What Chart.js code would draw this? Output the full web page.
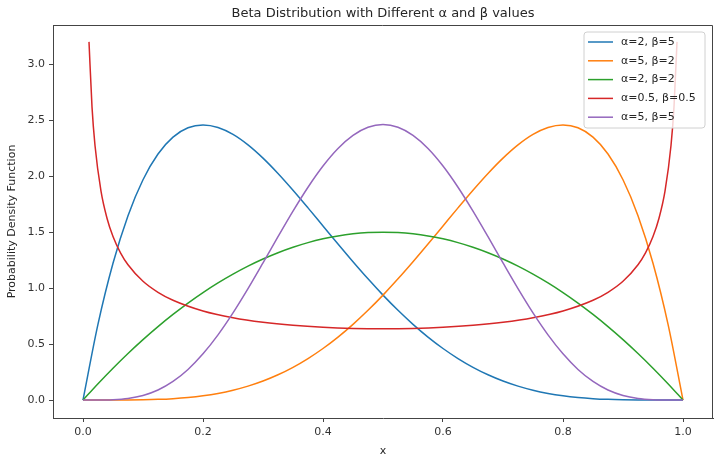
<!DOCTYPE html>
<html>
<head>
<meta charset="utf-8">
<script src="https://cdn.jsdelivr.net/npm/chart.js@4.4.0/dist/chart.umd.min.js"></script>
<style>
  html, body { margin: 0; padding: 0; background: #fff; }
  #wrap { width: 720px; height: 465px; }
</style>
</head>
<body>
<div id="wrap"><canvas id="betaChart" width="720" height="465"></canvas></div>
<script>
// x positions shared by the four bounded curves (step 0.025)
const xs = [0, 0.025, 0.05, 0.075, 0.1, 0.125, 0.15, 0.175, 0.2, 0.225, 0.25, 0.275, 0.3, 0.325, 0.35, 0.375,
  0.4, 0.425, 0.45, 0.475, 0.5, 0.525, 0.55, 0.575, 0.6, 0.625, 0.65, 0.675, 0.7, 0.725, 0.75, 0.775,
  0.8, 0.825, 0.85, 0.875, 0.9, 0.925, 0.95, 0.975, 1];

const blueY = [0, 0.6778, 1.2218, 1.6472, 1.9683, 2.1982, 2.3490, 2.4321, 2.4576, 2.4351, 2.3730, 2.2793, 2.1609, 2.0240, 1.8743, 1.7166,
  1.5552, 1.3937, 1.2353, 1.0826, 0.9375, 0.8018, 0.6766, 0.5628, 0.4608, 0.3708, 0.2926, 0.2259, 0.1701, 0.1244, 0.0879, 0.0596,
  0.0384, 0.0232, 0.0129, 0.0064, 0.0027, 0.0009, 0.0002, 0.0000, 0];
const orangeY = [0, 0.0000, 0.0002, 0.0009, 0.0027, 0.0064, 0.0129, 0.0232, 0.0384, 0.0596, 0.0879, 0.1244, 0.1701, 0.2259, 0.2926, 0.3708,
  0.4608, 0.5628, 0.6766, 0.8018, 0.9375, 1.0826, 1.2353, 1.3937, 1.5552, 1.7166, 1.8743, 2.0240, 2.1609, 2.2793, 2.3730, 2.4351,
  2.4576, 2.4321, 2.3490, 2.1982, 1.9683, 1.6472, 1.2218, 0.6778, 0];
const greenY = [0, 0.1463, 0.285, 0.4163, 0.54, 0.6563, 0.765, 0.8663, 0.96, 1.0463, 1.125, 1.1963, 1.26, 1.3163, 1.365, 1.4063,
  1.44, 1.4663, 1.485, 1.4963, 1.5, 1.4963, 1.485, 1.4663, 1.44, 1.4063, 1.365, 1.3163, 1.26, 1.1963, 1.125, 1.0463,
  0.96, 0.8663, 0.765, 0.6563, 0.54, 0.4163, 0.285, 0.1463, 0];
const purpleY = [0, 0.0002, 0.0032, 0.0146, 0.0413, 0.0902, 0.1665, 0.2737, 0.4129, 0.5825, 0.7787, 0.9955, 1.2252, 1.4591, 1.6876, 1.9010,
  2.0902, 2.2468, 2.3639, 2.4364, 2.4609, 2.4364, 2.3639, 2.2468, 2.0902, 1.9010, 1.6876, 1.4591, 1.2252, 0.9955, 0.7787, 0.5825,
  0.4129, 0.2737, 0.1665, 0.0902, 0.0413, 0.0146, 0.0032, 0.0002, 0];

// the U-shaped curve has its own x positions (it is infinite at 0 and 1)
const redX = [0.01, 0.015, 0.02, 0.03, 0.04, 0.05, 0.0625, 0.075, 0.1, 0.125, 0.15, 0.2, 0.25, 0.3, 0.35, 0.4, 0.45, 0.5,
  0.55, 0.6, 0.65, 0.7, 0.75, 0.8, 0.85, 0.875, 0.9, 0.925, 0.9375, 0.95, 0.96, 0.97, 0.98, 0.985, 0.99];
const redY = [3.1992, 2.6187, 2.2736, 1.8659, 1.6244, 1.4605, 1.3150, 1.2085, 1.0610, 0.9625, 0.8915, 0.7958, 0.7351, 0.6946, 0.6674, 0.6497, 0.6398, 0.6366,
  0.6398, 0.6497, 0.6674, 0.6946, 0.7351, 0.7958, 0.8915, 0.9625, 1.0610, 1.2085, 1.3150, 1.4605, 1.6244, 1.8659, 2.2736, 2.6187, 3.1992];

const seriesLabels = ['α=2, β=5', 'α=5, β=2', 'α=2, β=2', 'α=0.5, β=0.5', 'α=5, β=5'];
const seriesColors = ['#1f77b4', '#ff7f0e', '#2ca02c', '#d62728', '#9467bd'];

const xTicks = [0, 0.2, 0.4, 0.6, 0.8, 1.0];
const yTicks = [0, 0.5, 1.0, 1.5, 2.0, 2.5, 3.0];

const FONT = "'DejaVu Sans', sans-serif";

function toPoints(xv, yv) {
  return xv.map((x, i) => ({ x: x, y: yv[i] }));
}

const seriesData = [
  toPoints(xs, blueY),
  toPoints(xs, orangeY),
  toPoints(xs, greenY),
  toPoints(redX, redY),
  toPoints(xs, purpleY)
];

// matplotlib-like legend drawn inside the plot, on top of the lines
const innerLegend = {
  id: 'innerLegend',
  afterDatasetsDraw(chart) {
    const { ctx, chartArea } = chart;
    const boxW = 121, boxH = 96;
    const x0 = chartArea.right - 8 - boxW;
    const y0 = chartArea.top + 7;
    ctx.save();
    ctx.beginPath();
    ctx.roundRect(x0, y0, boxW, boxH, 3);
    ctx.fillStyle = 'rgba(255,255,255,0.8)';
    ctx.fill();
    ctx.strokeStyle = '#d0d0d0';
    ctx.lineWidth = 1;
    ctx.stroke();
    ctx.font = '11px ' + FONT;
    ctx.textBaseline = 'middle';
    chart.data.datasets.forEach((ds, i) => {
      const cy = y0 + 10 + i * 18.8;
      ctx.beginPath();
      ctx.moveTo(x0 + 4, cy);
      ctx.lineTo(x0 + 29, cy);
      ctx.strokeStyle = ds.borderColor;
      ctx.lineWidth = 1.5;
      ctx.stroke();
      ctx.fillStyle = '#262626';
      ctx.fillText(ds.label, x0 + 37, cy);
    });
    ctx.restore();
  },
  afterDraw(chart) {
    // top and right spines
    const { ctx, chartArea } = chart;
    ctx.save();
    ctx.strokeStyle = '#444';
    ctx.lineWidth = 1;
    ctx.beginPath();
    ctx.moveTo(chartArea.left, chartArea.top + 0.5);
    ctx.lineTo(chartArea.right - 0.5, chartArea.top + 0.5);
    ctx.lineTo(chartArea.right - 0.5, chartArea.bottom);
    ctx.stroke();
    ctx.restore();
  }
};

const ctx = document.getElementById('betaChart').getContext('2d');
new Chart(ctx, {
  type: 'line',
  data: {
    datasets: seriesData.map((pts, i) => ({
      label: seriesLabels[i],
      data: pts,
      borderColor: seriesColors[i],
      backgroundColor: seriesColors[i],
      borderWidth: 1.5,
      pointRadius: 0,
      fill: false,
      cubicInterpolationMode: 'monotone',
      order: seriesLabels.length - i
    }))
  },
  options: {
    responsive: false,
    animation: false,
    events: [],
    layout: { padding: { left: 0, right: 7, top: 0, bottom: 0 } },
    plugins: {
      legend: { display: false },
      tooltip: { enabled: false },
      title: {
        display: true,
        fullSize: false,
        text: 'Beta Distribution with Different α and β values',
        color: '#262626',
        font: { family: FONT, size: 13, weight: 'normal' },
        padding: { top: 6, bottom: 3.4 }
      }
    },
    scales: {
      x: {
        type: 'linear',
        min: -0.05,
        max: 1.05,
        afterFit: (scale) => { scale.height = 47; },
        afterBuildTicks: (scale) => { scale.ticks = xTicks.map(v => ({ value: v })); },
        ticks: {
          color: '#333',
          font: { family: FONT, size: 11 },
          padding: 4,
          maxRotation: 0,
          callback: (v) => Number(v).toFixed(1)
        },
        grid: { drawOnChartArea: false, drawTicks: true, tickLength: 4, color: '#444' },
        border: { display: true, color: '#444', width: 1 },
        title: {
          display: true,
          text: 'x',
          color: '#262626',
          font: { family: FONT, size: 11 },
          padding: { top: 0, bottom: 7 }
        }
      },
      y: {
        type: 'linear',
        min: -0.16,
        max: 3.35,
        afterFit: (scale) => { scale.width = 53; },
        afterBuildTicks: (scale) => { scale.ticks = yTicks.map(v => ({ value: v })); },
        ticks: {
          color: '#333',
          font: { family: FONT, size: 11 },
          padding: 4,
          callback: (v) => Number(v).toFixed(1)
        },
        grid: { drawOnChartArea: false, drawTicks: true, tickLength: 4, color: '#444' },
        border: { display: true, color: '#444', width: 1 },
        title: {
          display: true,
          text: 'Probability Density Function',
          color: '#262626',
          font: { family: FONT, size: 11 },
          padding: { top: 6, bottom: 0 }
        }
      }
    }
  },
  plugins: [innerLegend]
});
</script>
</body>
</html>
